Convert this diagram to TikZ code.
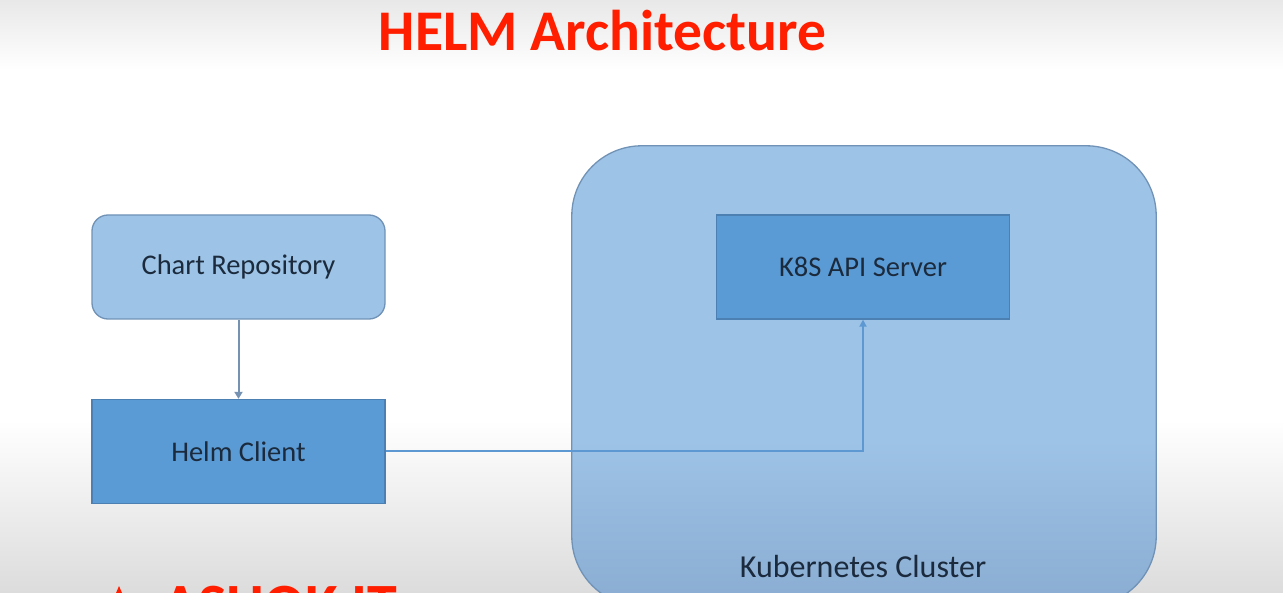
\documentclass[tikz,border=0pt]{standalone}
\usepackage{fontspec}
\setmainfont{Carlito}
\usetikzlibrary{arrows.meta,positioning}
\definecolor{lightfill}{HTML}{9DC3E6}
\definecolor{lightfilldark}{HTML}{8AACD2}
\definecolor{lightborder}{HTML}{7092B6}
\definecolor{midfill}{HTML}{5B9BD5}
\definecolor{midborder}{HTML}{4C80B2}
\definecolor{linkblue}{HTML}{5E98D2}
\definecolor{greyarrow}{HTML}{7592B3}
\definecolor{labeltext}{HTML}{1B2A3C}
\definecolor{titlered}{HTML}{FF1E00}
\definecolor{bgtop}{HTML}{E8E8E8}
\definecolor{bgbot}{HTML}{DCDCDC}
\tikzset{
  lightbox/.style={draw=lightborder, line width=1.3pt, fill=lightfill, rounded corners=16pt,
    minimum width=293pt, minimum height=104pt, inner sep=0pt, text=labeltext, font=\fontsize{28.5}{32}\selectfont},
  midbox/.style={draw=midborder, line width=1.3pt, fill=midfill,
    minimum width=293pt, minimum height=104pt, inner sep=0pt, text=labeltext, font=\fontsize{28.5}{32}\selectfont},
  clusterbox/.style={fill=lightfill, rounded corners=70pt,
    minimum width=584pt, minimum height=460pt, inner sep=0pt},
  flow/.style={line width=2pt},
}
\begin{document}
\begin{tikzpicture}[x=1pt,y=1pt]
\useasboundingbox (0,0) rectangle (1283,-593);
\clip (0,0) rectangle (1283,-593);
% background
\fill[white] (0,0) rectangle (1283,-593);
\shade[top color=bgtop, bottom color=white] (0,0) rectangle (1283,-70);
\shade[top color=white, bottom color=bgbot] (0,-420) rectangle (1283,-593);
% title
\node[text=titlered, font=\bfseries\fontsize{57.5}{62}\selectfont, anchor=base] (title) at (602.5,-51) {HELM Architecture};
% cluster
\node[clusterbox] (cluster) at (864,-376) {};
\begin{scope}
  \clip[rounded corners=70pt] (cluster.north west) rectangle (cluster.south east);
  \shade[top color=lightfill, bottom color=lightfilldark] (cluster.west |- 0,-440) rectangle (cluster.south east);
\end{scope}
\draw[draw=lightborder, line width=1.3pt, rounded corners=70pt] (cluster.north west) rectangle (cluster.south east);
\node[text=labeltext, font=\fontsize{32}{36}\selectfont, anchor=base] (clusterlabel) at (863,-577) {Kubernetes Cluster};
% boxes
\node[lightbox] (repo) at (238.5,-267) {Chart Repository};
\node[midbox] (client) at (238.5,-451.5) {Helm Client};
\node[midbox] (api) at (863,-267) {K8S API Server};
% connectors
\draw[flow, greyarrow, -{Triangle[width=8pt,length=7pt]}] (repo.south) -- (client.north);
\draw[flow, linkblue, -{Triangle[width=7pt,length=7pt]}] (client.east) -| (api.south);
% partially visible logo text at bottom
\node[text=titlered, font=\bfseries\fontsize{60}{64}\selectfont, anchor=base west, inner sep=0pt] (logo) at (162,-625) {ASHOK IT};
\fill[titlered] (113,-600) -- (119,-586) -- (125,-600) -- cycle;
\end{tikzpicture}
\end{document}
